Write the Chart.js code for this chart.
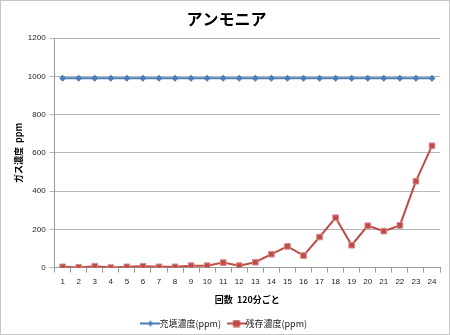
<!DOCTYPE html>
<html>
<head>
<meta charset="utf-8">
<script src="https://cdn.jsdelivr.net/npm/chart.js@4"></script>
<style>
  html, body { margin: 0; padding: 0; background: #fff; }
  #wrap { width: 448px; height: 333px; border: 1px solid #c8c8c8; }
</style>
</head>
<body>
<div id="wrap"><canvas id="gasChart" width="448" height="333"></canvas></div>
<script>
const rounds = ['1','2','3','4','5','6','7','8','9','10','11','12','13','14','15','16','17','18','19','20','21','22','23','24'];
const filled = [990,990,990,990,990,990,990,990,990,990,990,990,990,990,990,990,990,990,990,990,990,990,990,990];
const remaining = [4,1,7,0,4,7,4,4,10,10,26,10,28,70,111,63,160,261,117,219,191,221,452,637];
const yTicks = [0,200,400,600,800,1000,1200];

const JP = '"Noto Sans CJK JP", "Liberation Sans", sans-serif';
const BLUE = '#4a7ebb';
const RED = '#be4b48';

// small line+marker icons for the legend
function legendIcon(color, marker) {
    const c = document.createElement('canvas');
    c.width = 20; c.height = 8;
    const ctx = c.getContext('2d');
    ctx.strokeStyle = color;
    ctx.lineWidth = 2;
    ctx.beginPath(); ctx.moveTo(0, 4); ctx.lineTo(20, 4); ctx.stroke();
    ctx.fillStyle = color;
    if (marker === 'rect') {
        ctx.fillRect(6.5, 0.5, 7, 7);
    } else {
        ctx.beginPath();
        ctx.moveTo(10, 1); ctx.lineTo(13, 4); ctx.lineTo(10, 7); ctx.lineTo(7, 4);
        ctx.closePath(); ctx.fill();
    }
    return c;
}

new Chart(document.getElementById('gasChart'), {
    type: 'line',
    data: {
        labels: rounds,
        datasets: [{
            label: '充填濃度(ppm)',
            data: filled,
            borderColor: BLUE,
            backgroundColor: BLUE,
            borderWidth: 2,
            pointStyle: 'rectRot',
            pointRadius: 3.5,
            pointBorderWidth: 0,
            tension: 0
        }, {
            label: '残存濃度(ppm)',
            data: remaining,
            borderColor: RED,
            backgroundColor: RED,
            borderWidth: 2,
            pointStyle: 'rect',
            pointRadius: 4,
            pointBorderColor: '#d98c8a',
            pointBorderWidth: 1,
            tension: 0
        }]
    },
    options: {
        responsive: false,
        animation: false,
        layout: { padding: { left: 12, right: 9, top: 2, bottom: -4 } },
        plugins: {
            title: {
                display: true,
                text: 'アンモニア',
                color: '#000',
                font: { family: JP, size: 16, weight: 'bold' },
                padding: { top: 6, bottom: 10 }
            },
            legend: {
                position: 'bottom',
                labels: {
                    color: '#222',
                    font: { family: JP, size: 9 },
                    usePointStyle: true,
                    boxWidth: 20,
                    boxHeight: 8,
                    padding: 11,
                    generateLabels: chart => chart.data.datasets.map((ds, i) => ({
                        text: ds.label,
                        datasetIndex: i,
                        pointStyle: legendIcon(ds.borderColor, i === 1 ? 'rect' : 'diamond'),
                        fontColor: '#222',
                        lineWidth: 0
                    }))
                }
            },
            tooltip: { enabled: false }
        },
        scales: {
            x: {
                offset: true,
                grid: { offset: true, drawOnChartArea: false, color: '#9a9a9a', tickLength: 5 },
                border: { color: '#9a9a9a' },
                ticks: { color: '#222', font: { family: '"Liberation Sans", sans-serif', size: 8 }, maxRotation: 0, autoSkip: false, padding: 4 },
                title: {
                    display: true,
                    text: '回数  120分ごと',
                    color: '#000',
                    font: { family: JP, size: 9, weight: 'bold' },
                    padding: { top: 4, bottom: 3 }
                }
            },
            y: {
                min: 0,
                max: 1200,
                afterBuildTicks: axis => { axis.ticks = yTicks.map(v => ({ value: v })); },
                grid: { color: '#b4b4b4', tickLength: 5 },
                border: { color: '#9a9a9a' },
                ticks: {
                    color: '#222',
                    font: { family: '"Liberation Sans", sans-serif', size: 8 },
                    padding: 4,
                    callback: v => String(v)
                },
                title: {
                    display: true,
                    text: 'ガス濃度  ppm',
                    color: '#000',
                    font: { family: JP, size: 9, weight: 'bold' },
                    padding: { top: 0, bottom: 0 }
                }
            }
        }
    }
});
</script>
</body>
</html>
